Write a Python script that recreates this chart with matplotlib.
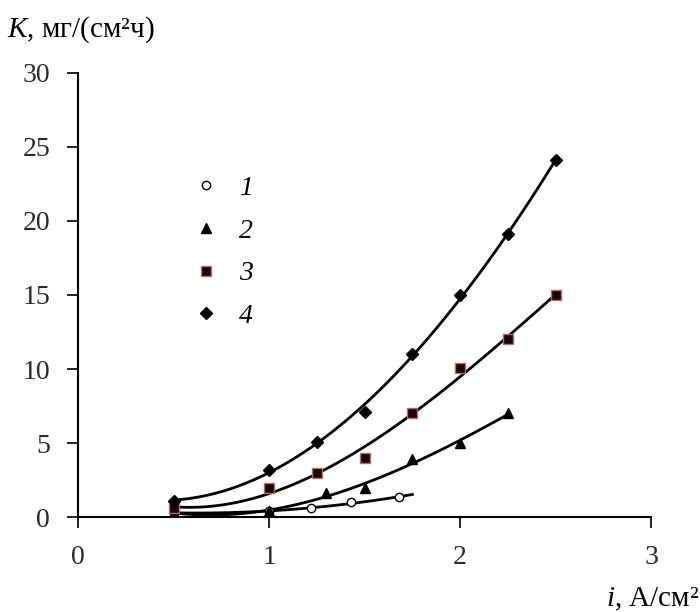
import numpy as np
import matplotlib
matplotlib.use('Agg')
import matplotlib.pyplot as plt

# current density, A/cm2 and corrosion rate K, mg/(cm2 h)
x1 = [0.5, 1.0, 1.22, 1.43, 1.68]
k1 = [0.3, 0.4, 0.6, 1.0, 1.35]
x2 = [0.5, 1.0, 1.3, 1.5, 1.75, 2.0, 2.25]
k2 = [0.3, 0.4, 1.6, 2.0, 3.9, 5.0, 7.0]
x3 = [0.5, 1.0, 1.25, 1.5, 1.75, 2.0, 2.25, 2.5]
k3 = [0.6, 2.0, 3.0, 4.0, 7.0, 10.1, 12.0, 15.0]
x4 = [0.5, 1.0, 1.25, 1.5, 1.75, 2.0, 2.25, 2.5]
k4 = [1.1, 3.2, 5.1, 7.1, 11.0, 15.0, 19.1, 24.1]
fit_end = [1.75, 2.25, 2.5, 2.5]
fit_deg = [2, 3, 3, 3]
labels = ['1', '2', '3', '4']

plt.rcParams['font.family'] = ['Liberation Serif', 'DejaVu Serif']
plt.rcParams['mathtext.fontset'] = 'custom'
plt.rcParams['mathtext.rm'] = 'Liberation Serif'
plt.rcParams['mathtext.it'] = 'Liberation Serif:italic'

fig = plt.figure(figsize=(7, 6.12), dpi=100)
ax = fig.add_axes([0.1114, 0.155, 0.819, 0.726])

styles = [
    dict(marker='o', mfc='white', mec='black', ms=6, mew=1.0),
    dict(marker='^', mfc='black', mec='black', ms=7),
    dict(marker='s', mfc='#1a0505', mec='#b86a6a', ms=7, mew=1.0),
    dict(marker='D', mfc='black', mec='black', ms=6),
]

for xs, ks, xe, dg, st, lab in zip([x1, x2, x3, x4], [k1, k2, k3, k4], fit_end, fit_deg, styles, labels):
    p = np.polyfit(xs, ks, dg)
    xx = np.linspace(0.5, xe, 100)
    ax.plot(xx, np.polyval(p, xx), color='black', lw=2, zorder=2)
    ax.plot(xs, ks, ls='none', label=lab, zorder=3, **st)

ax.set_xlim(0, 3)
ax.set_ylim(0, 30)
ax.set_xticks([0, 1, 2, 3])
ax.set_yticks(range(0, 31, 5))
for s in ['top', 'right']:
    ax.spines[s].set_visible(False)
for s in ['left', 'bottom']:
    ax.spines[s].set_linewidth(1.5)
ax.tick_params(direction='out', length=8, width=1.2, labelsize=20, color='black', labelcolor='#2a2a2a')
ax.tick_params(axis='y', pad=12)
ax.tick_params(axis='x', pad=12)

leg = ax.legend(loc='upper left', bbox_to_anchor=(0.155, 0.825), frameon=False,
                prop={'family': 'Liberation Serif', 'style': 'italic', 'size': 20},
                handletextpad=0.7, labelspacing=0.62, handlelength=1.0)

fig.text(0.010, 0.952, r'$K$, мг/(см²ч)', fontsize=21, ha='left', va='center')
fig.text(0.999, 0.020, r'$i$, А/см²', fontsize=21, ha='right', va='center')

fig.savefig('out.png', dpi=100)
